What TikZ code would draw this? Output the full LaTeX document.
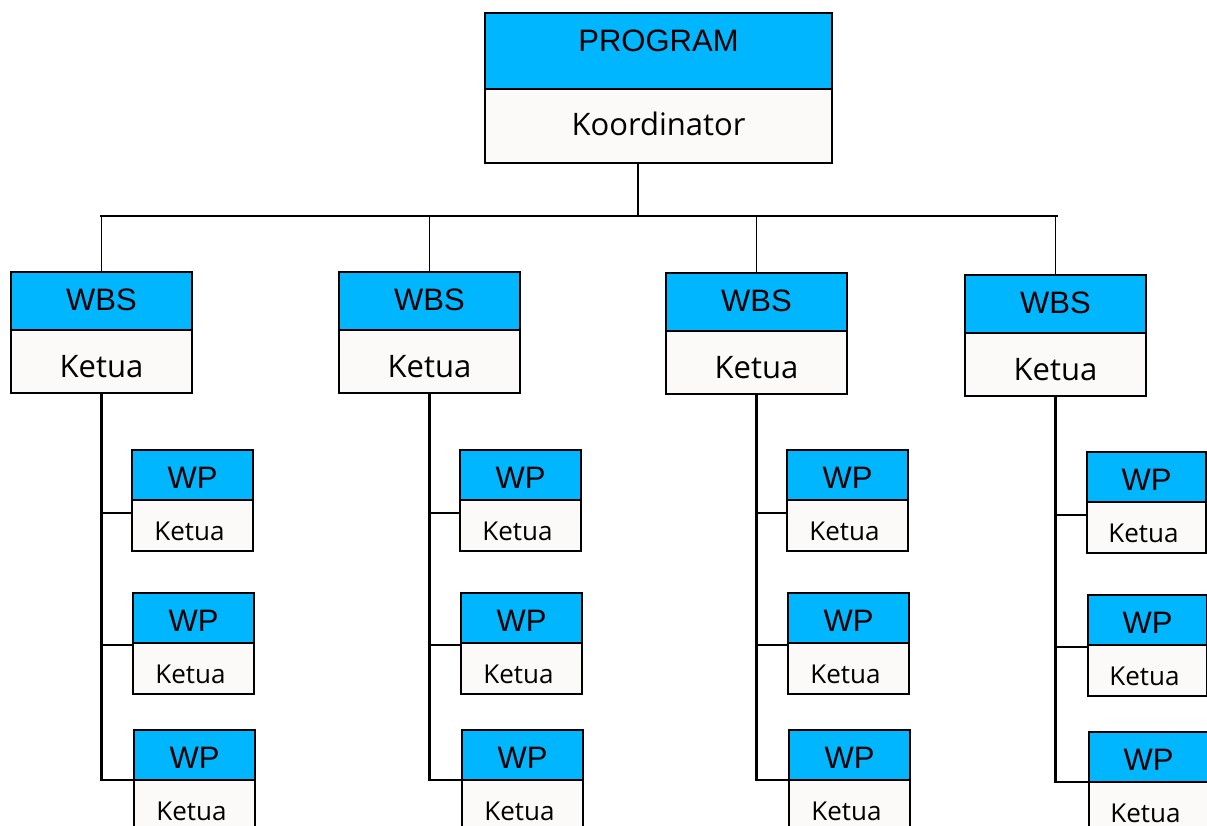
\documentclass[tikz,border=0pt]{standalone}
\usepackage{fontspec}
\setmainfont{Open Sans}
\newfontfamily\arialf{Liberation Sans}
\newfontfamily\calf{Open Sans}
\definecolor{hdrcyan}{RGB}{0,183,255}
\definecolor{bodywhite}{RGB}{251,250,248}
\newcommand\twobox[9]{%
  \node[hdr, minimum width=#6pt, minimum height=#4pt-#3pt, anchor=north west] (#1t) at (#2,#3) {};
  \node[bod, minimum width=#6pt, minimum height=#5pt-#4pt, anchor=north west] (#1b) at (#2,#4) {};
  \node[#9 toplab] (#1tl) at (#1t.north) {#7};
  \node[#9 botlab] (#1bl) at (#1b.north) {#8};
}
\tikzset{
  hdr/.style={draw=black, line width=1.5pt, fill=hdrcyan, inner sep=0pt, outer sep=0pt},
  bod/.style={draw=black, line width=1.5pt, fill=bodywhite, inner sep=0pt, outer sep=0pt},
  prog toplab/.style={anchor=base, yshift=-39pt, inner sep=0pt, font=\arialf\fontsize{31}{36}\selectfont},
  prog botlab/.style={anchor=base, yshift=-47pt, inner sep=0pt, font=\calf\fontsize{31}{36}\selectfont},
  wbs toplab/.style={anchor=base, yshift=-38pt, inner sep=0pt, font=\arialf\fontsize{31}{36}\selectfont},
  wbs botlab/.style={anchor=base, yshift=-47pt, inner sep=0pt, font=\calf\fontsize{31}{36}\selectfont},
  wp toplab/.style={anchor=base, yshift=-38pt, inner sep=0pt, font=\arialf\fontsize{31}{36}\selectfont},
  wp botlab/.style={anchor=base, yshift=-40pt, xshift=-3pt, inner sep=0pt, font=\calf\fontsize{26}{30}\selectfont},
  conn/.style={draw=black, line width=1.8pt},
  spine/.style={draw=black, line width=3.5pt},
  hbar/.style={draw=black, line width=2pt},
}
\begin{document}
\begin{tikzpicture}[x=1pt, y=-1pt]
\useasboundingbox (0,0) rectangle (1207,826);
\clip (0,0) rectangle (1207,826);
% top program box
\twobox{p}{485}{13}{89}{163}{347}{PROGRAM}{Koordinator}{prog}
% horizontal bar
\coordinate (hl) at (101,216);
\coordinate (hr) at (1057,216);
\draw[hbar] ([xshift=-1pt]hl) -- ([xshift=1pt]hr);
\draw[hbar] ([xshift=-20.5pt]pb.south) -- ([xshift=-20.5pt]pb.south |- hl);
% WBS boxes
\twobox{a}{11}{272}{330}{393}{181}{WBS}{Ketua}{wbs}
\twobox{b}{339}{272}{330}{393}{181}{WBS}{Ketua}{wbs}
\twobox{c}{666}{273}{331}{394}{181}{WBS}{Ketua}{wbs}
\twobox{d}{965}{275}{333}{396}{181}{WBS}{Ketua}{wbs}
\foreach \n in {a,b,c,d}{\draw[conn] (\n t.north) -- (\n t.north |- hl);}
% WP boxes
\twobox{aa}{132}{450}{500}{551}{121}{WP}{Ketua}{wp}
\twobox{ab}{133}{593}{643}{694}{121}{WP}{Ketua}{wp}
\twobox{ac}{134}{730}{780}{831}{121}{WP}{Ketua}{wp}
\twobox{ba}{460}{450}{500}{551}{121}{WP}{Ketua}{wp}
\twobox{bb}{461}{593}{643}{694}{121}{WP}{Ketua}{wp}
\twobox{bc}{462}{730}{780}{831}{121}{WP}{Ketua}{wp}
\twobox{ca}{787}{450}{500}{551}{121}{WP}{Ketua}{wp}
\twobox{cb}{788}{593}{643}{694}{121}{WP}{Ketua}{wp}
\twobox{cc}{789}{730}{780}{831}{121}{WP}{Ketua}{wp}
\twobox{da}{1087}{452}{502}{553}{119}{WP}{Ketua}{wp}
\twobox{db}{1088}{595}{645}{696}{119}{WP}{Ketua}{wp}
\twobox{dc}{1089}{732}{782}{833}{119}{WP}{Ketua}{wp}
% spines and branches
\foreach \n in {a,b,c,d}{
  \coordinate (\n1) at ([yshift=-13pt]\n ab.north west);
  \coordinate (\n2) at ([yshift=-2pt]\n bb.north west);
  \coordinate (\n3) at (\n cb.north west);
  \draw[conn] (\n1) -- (\n1 -| \n b.south);
  \draw[conn] (\n2) -- (\n2 -| \n b.south);
  \draw[conn] (\n3) -- (\n3 -| \n b.south);
  \draw[spine] (\n b.south) -- ([yshift=-1pt]\n b.south |- \n3);
}
\end{tikzpicture}
\end{document}
